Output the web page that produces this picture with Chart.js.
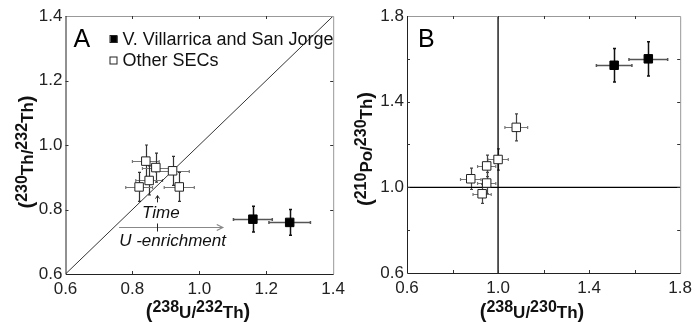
<!DOCTYPE html>
<html><head><meta charset="utf-8">
<script src="https://cdn.jsdelivr.net/npm/chart.js@4.4.1/dist/chart.umd.min.js"></script>
<style>
html,body{margin:0;padding:0;background:#fff;}
#wrap{position:relative;width:697px;height:322px;overflow:hidden;}
#ca{position:absolute;left:0;top:0;width:350px;height:322px;}
#cb{position:absolute;left:350px;top:0;width:347px;height:322px;}
</style></head><body>
<div id="wrap"><canvas id="ca" width="350" height="322"></canvas><canvas id="cb" width="347" height="322"></canvas></div>
<script>
const FONT = '"Liberation Sans", Arial, Helvetica, sans-serif';

// ---- Panel A: (230Th/232Th) vs (238U/232Th) ----
const aVvX = [1.16, 1.27];
const aVvY = [0.77, 0.76];
const aVvXerr = [0.058, 0.062];
const aVvYerr = [0.040, 0.040];
const aSecX = [0.84, 0.87, 0.92, 0.85, 0.82, 0.94];
const aSecY = [0.95, 0.93, 0.92, 0.89, 0.87, 0.87];
const aSecXerr = [0.040, 0.040, 0.050, 0.040, 0.040, 0.045];
const aSecYerr = [0.050, 0.045, 0.045, 0.045, 0.045, 0.045];
const aEquiline = [0.6, 1.4];
const aXTicks = [0.6, 0.8, 1.0, 1.2, 1.4];
const aYTicks = [0.6, 0.8, 1.0, 1.2, 1.4];

// ---- Panel B: (210Po/230Th) vs (238U/230Th) ----
const bVvX = [1.51, 1.66];
const bVvY = [1.57, 1.60];
const bVvXerr = [0.078, 0.085];
const bVvYerr = [0.078, 0.080];
const bSecX = [1.08, 1.00, 0.95, 0.88, 0.95, 0.93];
const bSecY = [1.28, 1.13, 1.10, 1.04, 1.02, 0.97];
const bSecXerr = [0.050, 0.045, 0.040, 0.045, 0.040, 0.040];
const bSecYerr = [0.063, 0.050, 0.050, 0.050, 0.050, 0.045];
const bEquiline = [0.6, 1.8];
const bXTicks = [0.6, 1.0, 1.4, 1.8];
const bYTicks = [0.6, 1.0, 1.4, 1.8];

// annotation anchors (data units) for panel A
const aEnrichArrow = {x0: 0.76, x1: 1.07, y: 0.745};
const aTimeArrow = {x: 0.873, y0: 0.822, y1: 0.843};
const aTimeText = {x: 0.885, y: 0.789};
const aEnrichText = {x: 0.92, y: 0.703};

const zip = (xs, ys) => xs.map((x, i) => ({x, y: ys[i]}));

function richText(ctx, parts, cx, cy, rot) {
  ctx.save();
  ctx.translate(cx, cy); ctx.rotate(rot || 0);
  const ws = [];
  let w = 0;
  for (let i = 0; i < parts.length; i++) {
    const p = parts[i];
    ctx.font = `bold ${p[1]}px ${FONT}`;
    ws[i] = ctx.measureText(p[0]).width; w += ws[i];
  }
  let x = -w / 2;
  ctx.textBaseline = 'alphabetic'; ctx.textAlign = 'left'; ctx.fillStyle = '#111';
  for (let i = 0; i < parts.length; i++) {
    const p = parts[i];
    ctx.font = `bold ${p[1]}px ${FONT}`;
    ctx.fillText(p[0], x, 7 - p[2]);
    x += ws[i];
  }
  ctx.restore();
}

function makeDecor(o) {
  return {
  id: 'decor' + o.letter,
  beforeDatasetsDraw(chart) {
    const ctx = chart.ctx, xs = chart.scales.x, ys = chart.scales.y;
    ctx.save();
    o.errors.forEach(e => {
      const ds = chart.data.datasets[e.ds];
      ds.data.forEach((p, i) => {
        const px = Math.round(xs.getPixelForValue(p.x)) + 0.5, py = Math.round(ys.getPixelForValue(p.y)) + 0.5;
        const xl = xs.getPixelForValue(p.x - e.xerr[i]), xr = xs.getPixelForValue(p.x + e.xerr[i]);
        const yt = ys.getPixelForValue(p.y + e.yerr[i]), yb = ys.getPixelForValue(p.y - e.yerr[i]);
        ctx.lineWidth = e.lw;
        ctx.strokeStyle = e.hColor;
        ctx.beginPath();
        ctx.moveTo(xl, py); ctx.lineTo(xr, py);
        ctx.moveTo(xl, py - 1.5); ctx.lineTo(xl, py + 1.5);
        ctx.moveTo(xr, py - 1.5); ctx.lineTo(xr, py + 1.5);
        ctx.stroke();
        ctx.strokeStyle = e.vColor;
        ctx.beginPath();
        ctx.moveTo(px, yt); ctx.lineTo(px, yb);
        ctx.moveTo(px - 1.5, yt); ctx.lineTo(px + 1.5, yt);
        ctx.moveTo(px - 1.5, yb); ctx.lineTo(px + 1.5, yb);
        ctx.stroke();
      });
    });
    ctx.restore();
  },
  afterDraw(chart) {
    const ctx = chart.ctx, xs = chart.scales.x, ys = chart.scales.y, ca = chart.chartArea;
    ctx.save();
    // frame: dark left/bottom, grey top/right
    ctx.lineWidth = 1;
    ctx.strokeStyle = '#999';
    ctx.beginPath();
    ctx.moveTo(ca.left, ca.top + 0.5); ctx.lineTo(ca.right + 0.5, ca.top + 0.5); ctx.lineTo(ca.right + 0.5, ca.bottom);
    ctx.stroke();
    ctx.strokeStyle = '#222';
    ctx.beginPath();
    ctx.moveTo(ca.left + 0.5, ca.top); ctx.lineTo(ca.left + 0.5, ca.bottom + 0.5); ctx.lineTo(ca.right + 0.5, ca.bottom + 0.5);
    ctx.stroke();
    // inward ticks
    ctx.strokeStyle = '#333';
    ctx.beginPath();
    xs.ticks.forEach(t => {
      if (t.value <= xs.min + 1e-6 || t.value >= xs.max - 1e-6) return;
      const px = Math.round(xs.getPixelForValue(t.value)) + 0.5;
      ctx.moveTo(px, ca.bottom); ctx.lineTo(px, ca.bottom - 3);
      ctx.moveTo(px, ca.top); ctx.lineTo(px, ca.top + 3);
    });
    ys.ticks.forEach(t => {
      if (t.value <= ys.min + 1e-6 || t.value >= ys.max - 1e-6) return;
      const py = Math.round(ys.getPixelForValue(t.value)) + 0.5;
      ctx.moveTo(ca.left, py); ctx.lineTo(ca.left + 3, py);
      ctx.moveTo(ca.right, py); ctx.lineTo(ca.right - 3, py);
    });
    ctx.stroke();
    // panel letter
    ctx.fillStyle = '#000';
    ctx.font = `25px ${FONT}`;
    ctx.textAlign = 'left'; ctx.textBaseline = 'alphabetic';
    ctx.fillText(o.letter, ca.left + o.letterDx, ca.top + 31);
    // axis titles
    richText(ctx, o.xTitle, o.xTitlePos[0], o.xTitlePos[1], 0);
    richText(ctx, o.yTitle, o.yTitlePos[0], o.yTitlePos[1], -Math.PI / 2);
    // legend
    if (o.legend) {
      ctx.font = `18px ${FONT}`;
      ctx.textBaseline = 'middle';
      o.legend.forEach((dsi, i) => {
        const ds = chart.data.datasets[dsi];
        const lx = ca.left + 48, ly = ca.top + 23 + i * 21.5;
        ctx.fillStyle = ds.backgroundColor; ctx.strokeStyle = '#222'; ctx.lineWidth = 1;
        ctx.fillRect(lx - 3, ly - 3, 7, 7); ctx.strokeRect(lx - 3.5, ly - 3.5, 7, 7);
        ctx.fillStyle = '#111';
        ctx.fillText(ds.label, lx + 9, ly + 1);
      });
    }
    // annotations
    if (o.annot) {
      const A = o.annot;
      const x0 = xs.getPixelForValue(A.enrich.x0), x1 = xs.getPixelForValue(A.enrich.x1), ay = Math.round(ys.getPixelForValue(A.enrich.y)) + 0.5;
      ctx.strokeStyle = '#888'; ctx.lineWidth = 1.2;
      ctx.beginPath();
      ctx.moveTo(x0, ay); ctx.lineTo(x1, ay);
      ctx.moveTo(x1 - 6, ay - 3); ctx.lineTo(x1, ay); ctx.lineTo(x1 - 6, ay + 3);
      ctx.stroke();
      const tx = Math.round(xs.getPixelForValue(A.time.x)) + 0.5;
      ctx.strokeStyle = '#222'; ctx.lineWidth = 1;
      ctx.beginPath();
      ctx.moveTo(tx, ay - 4); ctx.lineTo(tx, ay + 4);
      const ty0 = ys.getPixelForValue(A.time.y0), ty1 = ys.getPixelForValue(A.time.y1);
      ctx.moveTo(tx, ty0); ctx.lineTo(tx, ty1);
      ctx.moveTo(tx - 2, ty1 + 3); ctx.lineTo(tx, ty1); ctx.lineTo(tx + 2, ty1 + 3);
      ctx.stroke();
      ctx.fillStyle = '#111';
      ctx.font = `italic 17px ${FONT}`;
      ctx.textAlign = 'center'; ctx.textBaseline = 'middle';
      ctx.fillText('Time', xs.getPixelForValue(A.timeText.x), ys.getPixelForValue(A.timeText.y));
      ctx.fillText('U -enrichment', xs.getPixelForValue(A.enrichText.x), ys.getPixelForValue(A.enrichText.y));
    }
    ctx.restore();
  }
  };
}

function makeScale(min, max, labelVals, fixed, isX) {
  return {
    type: 'linear', min, max,
    ticks: {
      stepSize: 0.2, color: '#222', font: {family: FONT, size: 17}, padding: isX ? 5 : 3,
      maxRotation: 0, autoSkip: false,
      callback(v) {
        const hit = labelVals.some(l => Math.abs(l - v) < 1e-6);
        return hit ? v.toFixed(1) : '';
      }
    },
    grid: {display: false, drawTicks: false},
    border: {display: false},
    afterFit(s) { if (isX) s.height = fixed; else s.width = fixed; }
  };
}

function baseOpts(xmin, xmax, ymin, ymax, xl, yl, padRight, xH, yW) {
  return {
    responsive: false, animation: false, devicePixelRatio: 1,
    layout: {padding: {top: 16, right: padRight, left: 0, bottom: 0}},
    scales: {x: makeScale(xmin, xmax, xl, xH, true), y: makeScale(ymin, ymax, yl, yW, false)},
    plugins: {legend: {display: false}, tooltip: {enabled: false}}
  };
}

const sup = (t) => [t, 16, 6];
const nrm = (t) => [t, 17, 0];
const par = (t) => [t, 20, 0];

new Chart(document.getElementById('ca'), {
  type: 'scatter',
  data: {datasets: [
    {label: 'V. Villarrica and San Jorge', data: zip(aVvX, aVvY), pointStyle: 'rect', pointRadius: 6, backgroundColor: '#000', borderColor: '#000', borderWidth: 1, order: 1},
    {label: 'Other SECs', data: zip(aSecX, aSecY), pointStyle: 'rect', pointRadius: 6, backgroundColor: '#fff', borderColor: '#222', borderWidth: 1, order: 2},
    {label: 'equiline', data: zip(aEquiline, aEquiline), showLine: true, pointRadius: 0, borderColor: '#000', borderWidth: 0.8, order: 5}
  ]},
  options: baseOpts(0.6, 1.4, 0.6, 1.4, aXTicks, aYTicks, 6, 48, 65.5),
  plugins: [makeDecor({
    letter: 'A', letterDx: 8,
    errors: [{ds: 0, xerr: aVvXerr, yerr: aVvYerr, hColor: '#555', vColor: '#111', lw: 1.5},
             {ds: 1, xerr: aSecXerr, yerr: aSecYerr, hColor: '#777', vColor: '#333', lw: 1.2}],
    legend: [0, 1],
    xTitle: [par('('), sup('238'), nrm('U/'), sup('232'), nrm('Th'), par(')')],
    xTitlePos: [198, 311],
    yTitle: [par('('), sup('230'), nrm('Th/'), sup('232'), nrm('Th'), par(')')],
    yTitlePos: [26, 152],
    annot: {enrich: aEnrichArrow, time: aTimeArrow, timeText: aTimeText, enrichText: aEnrichText}
  })]
});

new Chart(document.getElementById('cb'), {
  type: 'scatter',
  data: {datasets: [
    {label: 'V. Villarrica and San Jorge', data: zip(bVvX, bVvY), pointStyle: 'rect', pointRadius: 6, backgroundColor: '#000', borderColor: '#000', borderWidth: 1, order: 1},
    {label: 'Other SECs', data: zip(bSecX, bSecY), pointStyle: 'rect', pointRadius: 6, backgroundColor: '#fff', borderColor: '#222', borderWidth: 1, order: 2},
    {label: 'U-Th equilibrium', data: zip([1.0, 1.0], bEquiline), showLine: true, pointRadius: 0, borderColor: '#000', borderWidth: 1.3, order: 5},
    {label: 'Po-Th equilibrium', data: zip(bEquiline, [1.0, 1.0]), showLine: true, pointRadius: 0, borderColor: '#000', borderWidth: 1.3, order: 5}
  ]},
  options: baseOpts(0.6, 1.8, 0.6, 1.8, bXTicks, bYTicks, 12, 49, 57),
  plugins: [makeDecor({
    letter: 'B', letterDx: 11,
    errors: [{ds: 0, xerr: bVvXerr, yerr: bVvYerr, hColor: '#555', vColor: '#111', lw: 1.5},
             {ds: 1, xerr: bSecXerr, yerr: bSecYerr, hColor: '#777', vColor: '#444', lw: 1.2}],
    xTitle: [par('('), sup('238'), nrm('U/'), sup('230'), nrm('Th'), par(')')],
    xTitlePos: [182, 311],
    yTitle: [par('('), sup('210'), nrm('Po/'), sup('230'), nrm('Th'), par(')')],
    yTitlePos: [15, 149]
  })]
});
</script>
</body></html>
